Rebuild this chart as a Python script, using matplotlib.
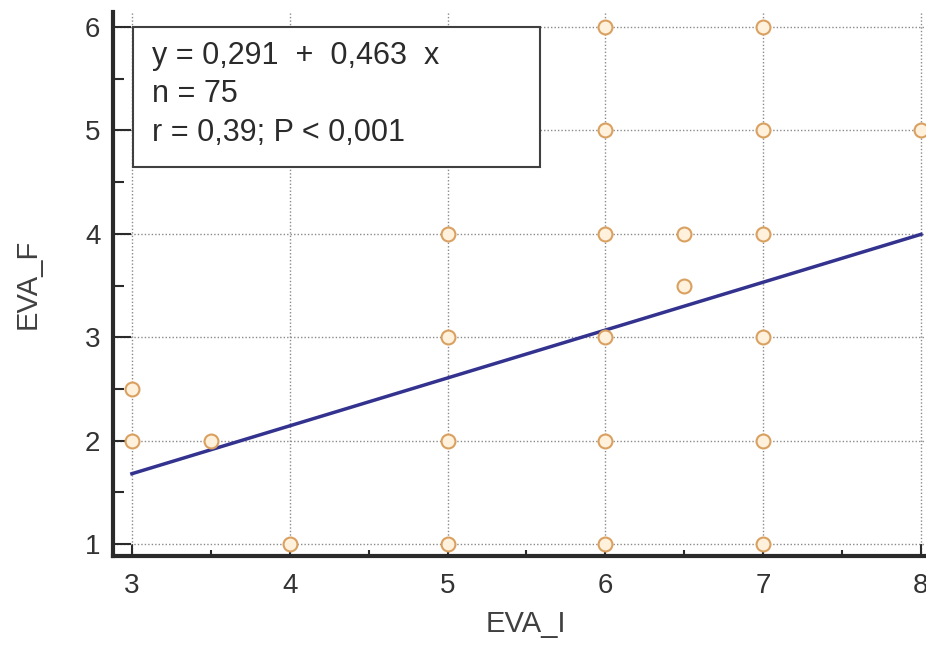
import matplotlib
matplotlib.use("Agg")
import matplotlib.pyplot as plt
from matplotlib.patches import Rectangle
from matplotlib.ticker import MultipleLocator

plt.rcParams['font.family'] = ['Liberation Sans', 'DejaVu Sans']

# Distinct (EVA_I, EVA_F) observations
eva_i = [3, 3, 3.5, 4, 5, 5, 5, 5, 6, 6, 6, 6, 6, 6, 6.5, 6.5, 7, 7, 7, 7, 7, 7, 8]
eva_f = [2, 2.5, 2, 1, 1, 2, 3, 4, 1, 2, 3, 4, 5, 6, 3.5, 4, 1, 2, 3, 4, 5, 6, 5]

# Regression fit
intercept = 0.291
slope = 0.463
fit_range = [3, 8]
stats_lines = ["y = 0,291  +  0,463  x", "n = 75", "r = 0,39; P < 0,001"]

x_ticks = [3, 4, 5, 6, 7, 8]
y_ticks = [1, 2, 3, 4, 5, 6]

fig = plt.figure(figsize=(9.26, 6.57), dpi=100)
ax = fig.add_axes([0.122, 0.1537, 0.892, 0.828])

ax.set_xlim(2.88, 8.114)
ax.set_ylim(0.884, 6.145)

ax.grid(True, color='#8a8a8a', linestyle=(0, (1, 1.5)), linewidth=1.0)
ax.set_axisbelow(True)

fit_y = [intercept + slope * v for v in fit_range]
ax.plot(fit_range, fit_y, color='#33338f', linewidth=2.5, zorder=3)

ax.plot(eva_i, eva_f, linestyle='none', marker='o', markersize=10,
        markerfacecolor='#fff1dc', markeredgecolor='#d9a060',
        markeredgewidth=1.5, zorder=4, clip_on=False)

ax.xaxis.set_minor_locator(MultipleLocator(0.5))
ax.yaxis.set_minor_locator(MultipleLocator(0.5))
ax.set_xticks(x_ticks)
ax.set_yticks(y_ticks)

ax.tick_params(axis='x', which='major', direction='in', length=9, width=1.5,
               color='#2a2a2a', labelsize=20, labelcolor='#333333', pad=12)
ax.tick_params(axis='x', which='minor', direction='in', length=4, width=1.5,
               color='#2a2a2a')
ax.tick_params(axis='y', which='major', direction='in', length=13, width=1.5,
               color='#2a2a2a', labelsize=20, labelcolor='#333333', pad=9)
ax.tick_params(axis='y', which='minor', direction='in', length=8, width=1.5,
               color='#2a2a2a')

for side in ('top', 'right'):
    ax.spines[side].set_visible(False)
for side in ('left', 'bottom'):
    ax.spines[side].set_linewidth(3)
    ax.spines[side].set_color('#2a2a2a')

ax.set_xlabel('EVA_I', fontsize=21, color='#404040', labelpad=8)
ax.set_ylabel('EVA_F', fontsize=21, color='#404040', labelpad=31)

# Statistics box in the upper-left corner
box = Rectangle((3.006, 4.65), 2.58, 1.35, facecolor='white',
                edgecolor='#404040', linewidth=1.5, zorder=5)
ax.add_patch(box)
for i, line in enumerate(stats_lines):
    ax.text(3.13, 5.72 - i * 0.372, line, fontsize=22, color='#2b2b2b',
            va='center', ha='left', zorder=6)

fig.savefig('out.png', dpi=100)
